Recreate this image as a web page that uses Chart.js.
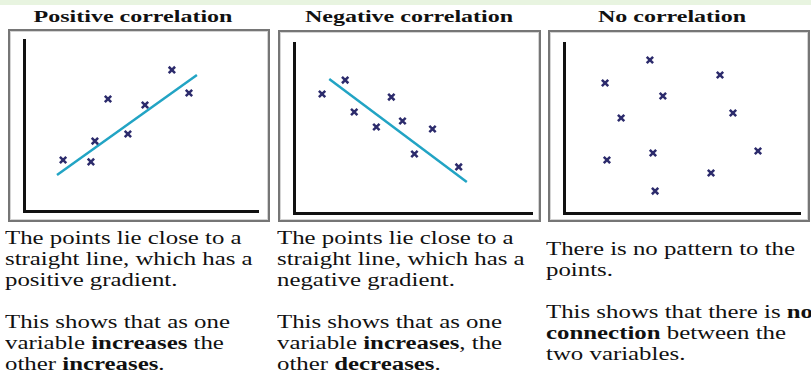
<!DOCTYPE html>
<html>
<head>
<meta charset="utf-8">
<script src="https://cdn.jsdelivr.net/npm/chart.js@4"></script>
<style>
  html, body { margin: 0; padding: 0; background: #fff; }
  body { width: 811px; height: 379px; position: relative; overflow: hidden; font-family: "Liberation Serif", "Times New Roman", serif; color: #111; }
  .band { position: absolute; left: 0; top: 0; width: 811px; height: 5px; background: #e8f4e0; }
  .title { position: absolute; top: 7px; font-weight: bold; font-size: 16px; line-height: 20px; white-space: nowrap; transform: translateX(-50%) scaleX(1.5); }
  .box { position: absolute; box-sizing: border-box; border: 2px solid #767676; box-shadow: inset 0 0 0 1px #d4d4d4; }
  canvas { position: absolute; }
  .text { position: absolute; font-size: 18px; line-height: 21px; white-space: nowrap; transform-origin: 0 0; transform: scaleX(1.38); }
  .text p { margin: 0 0 21px 0; }
</style>
</head>
<body>
<div class="band"></div>

<div class="title" style="left:133px">Positive correlation</div>
<div class="title" style="left:409px">Negative correlation</div>
<div class="title" style="left:672px">No correlation</div>

<div class="text" style="left:5px; top:228px">
  <p>The points lie close to a<br>straight line, which has a<br>positive gradient.</p>
  <p>This shows that as one<br>variable <b>increases</b> the<br>other <b>increases</b>.</p>
</div>
<div class="text" style="left:277px; top:228px">
  <p>The points lie close to a<br>straight line, which has a<br>negative gradient.</p>
  <p>This shows that as one<br>variable <b>increases</b>, the<br>other <b>decreases</b>.</p>
</div>
<div class="text" style="left:546px; top:239px">
  <p>There is no pattern to the<br>points.</p>
  <p>This shows that there is <b>no</b><br><b>connection</b> between the<br>two variables.</p>
</div>

<script>
// values (0-10 on both axes)
var posX = [1.67, 2.86, 3.03, 3.59, 4.44, 5.17, 6.32, 7.05];
var posY = [2.98, 2.87, 4.09, 6.55, 4.50, 6.20, 8.25, 6.90];
var posLineX = [1.41, 7.39];
var posLineY = [2.11, 7.95];

var negX = [1.18, 2.15, 2.53, 3.46, 4.09, 4.56, 5.82, 5.06, 6.92];
var negY = [7.00, 7.82, 5.94, 5.06, 6.82, 5.41, 4.94, 3.47, 2.71];
var negLineX = [1.48, 7.26];
var negLineY = [7.88, 1.82];

var noneX = [3.64, 1.74, 6.61, 4.19, 2.42, 7.16, 1.82, 3.77, 8.22, 6.23, 3.86];
var noneY = [9.00, 7.65, 8.12, 6.88, 5.59, 5.88, 3.12, 3.53, 3.65, 2.35, 1.29];

function toPoints(xs, ys) {
    return xs.map(function (x, i) { return { x: x, y: ys[i] }; });
}

// box = frame around the panel, plot = where the two axes sit
var panels = [
    { box: [8, 29, 270, 222], plot: [24, 40, 258, 211], xs: posX, ys: posY, lx: posLineX, ly: posLineY },
    { box: [278, 30, 541, 222], plot: [294, 43, 532, 213], xs: negX, ys: negY, lx: negLineX, ly: negLineY },
    { box: [548, 30, 810, 222], plot: [564, 43, 800, 213], xs: noneX, ys: noneY, lx: null, ly: null }
];

panels.forEach(function (p) {
    var b = p.box, a = p.plot;
    var frame = document.createElement('div');
    frame.className = 'box';
    frame.style.left = b[0] + 'px';
    frame.style.top = b[1] + 'px';
    frame.style.width = (b[2] - b[0]) + 'px';
    frame.style.height = (b[3] - b[1]) + 'px';

    var canvas = document.createElement('canvas');
    canvas.width = b[2] - b[0];
    canvas.height = b[3] - b[1];
    canvas.style.left = b[0] + 'px';
    canvas.style.top = b[1] + 'px';
    document.body.appendChild(canvas);
    document.body.appendChild(frame);

    var datasets = [{
        data: toPoints(p.xs, p.ys),
        pointStyle: 'crossRot',
        pointRadius: 4.5,
        borderColor: '#2c2b6c',
        borderWidth: 2.5,
        showLine: false
    }];
    if (p.lx) {
        datasets.push({
            data: toPoints(p.lx, p.ly),
            showLine: true,
            borderColor: '#22a4c4',
            borderWidth: 2.5,
            pointRadius: 0
        });
    }

    var axis = {
        type: 'linear', min: 0, max: 10,
        ticks: { display: false },
        grid: { display: false, drawTicks: false },
        border: { display: true, color: '#111', width: 3 }
    };

    new Chart(canvas.getContext('2d'), {
        type: 'scatter',
        data: { datasets: datasets },
        options: {
            responsive: false,
            animation: false,
            layout: {
                padding: { left: a[0] - b[0], top: a[1] - b[1], right: b[2] - a[2], bottom: b[3] - a[3] }
            },
            scales: { x: Object.assign({ position: 'bottom' }, axis), y: Object.assign({ position: 'left' }, axis) },
            plugins: { legend: { display: false }, tooltip: { enabled: false } }
        }
    });
});
</script>
</body>
</html>
